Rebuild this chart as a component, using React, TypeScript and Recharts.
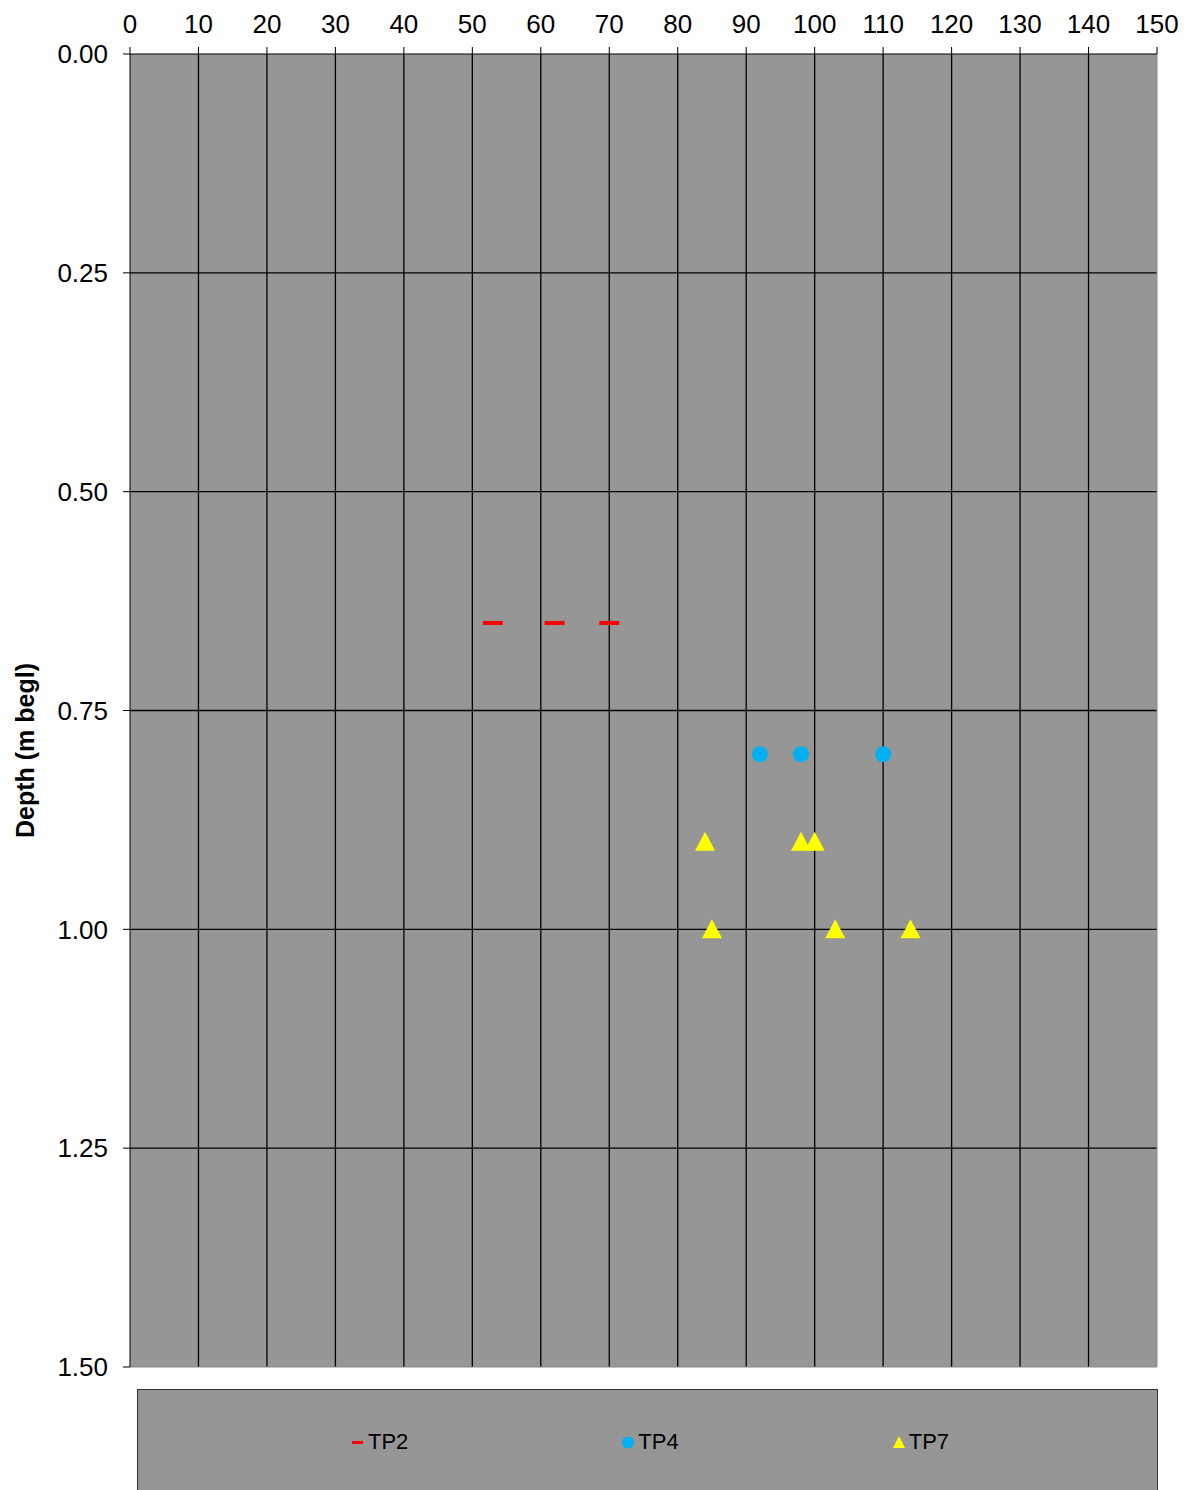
import { ScatterChart, Scatter, XAxis, YAxis, CartesianGrid, ReferenceLine } from 'recharts';

const xTicks = [0, 10, 20, 30, 40, 50, 60, 70, 80, 90, 100, 110, 120, 130, 140, 150];
const yTicks = [0, 0.25, 0.5, 0.75, 1.0, 1.25, 1.5];

const tp2Values = [53, 62, 70];
const tp2Depths = [0.65, 0.65, 0.65];
const tp4Values = [92, 98, 110];
const tp4Depths = [0.8, 0.8, 0.8];
const tp7Values = [84, 98, 100, 85, 103, 114];
const tp7Depths = [0.9, 0.9, 0.9, 1.0, 1.0, 1.0];

const toPoints = (values: number[], depths: number[]) =>
  values.map((v, i) => ({ value: v, depth: depths[i] }));

const tp2 = toPoints(tp2Values, tp2Depths);
const tp4 = toPoints(tp4Values, tp4Depths);
const tp7 = toPoints(tp7Values, tp7Depths);

const FONT = '"Liberation Sans", Arial, sans-serif';

// marker shapes
const Dash = ({ cx, cy }: any) => <rect x={cx - 10} y={cy - 2} width={20} height={4} fill="#FF0000" />;
const Dot = ({ cx, cy }: any) => <circle cx={cx} cy={cy} r={8} fill="#00B0F0" />;
const Tri = ({ cx, cy }: any) => (
  <polygon points={`${cx},${cy - 10} ${cx + 10},${cy + 9} ${cx - 10},${cy + 9}`} fill="#FFFF00" />
);

const DepthLabel = ({ viewBox }: any) => {
  const x = viewBox.x + 25;
  const y = viewBox.y + viewBox.height / 2 + 40;
  return (
    <text
      x={x}
      y={y}
      transform={`rotate(-90, ${x}, ${y})`}
      textAnchor="middle"
      dominantBaseline="central"
      fontFamily={FONT}
      fontSize={25}
      fontWeight="bold"
      fill="#000"
    >
      Depth (m begl)
    </text>
  );
};

const legendItems = [
  { name: 'TP2', icon: <rect x={0} y={6} width={11} height={3} fill="#FF0000" /> },
  { name: 'TP4', icon: <circle cx={6} cy={7.5} r={6} fill="#00B0F0" /> },
  { name: 'TP7', icon: <polygon points="6,1 12,13 0,13" fill="#FFFF00" /> },
];

const App = () => {
  return (
    <div style={{ position: 'absolute', left: 0, top: 0, width: 1197, height: 1490, overflow: 'hidden', background: '#fff', fontFamily: FONT }}>
      <ScatterChart width={1197} height={1490} margin={{ top: 21, right: 40, left: 0, bottom: 123 }}>
        <CartesianGrid fill="#969696" stroke="none" horizontal={false} vertical={false} />
        <XAxis
          type="number"
          dataKey="value"
          orientation="top"
          domain={[0, 150]}
          ticks={xTicks}
          interval={0}
          height={33}
          tickSize={7}
          tickMargin={14}
          axisLine={{ stroke: '#000' }}
          tickLine={{ stroke: '#000' }}
          tick={{ fill: '#000', fontSize: 26, fontFamily: FONT }}
        />
        <YAxis
          type="number"
          dataKey="depth"
          reversed
          domain={[0, 1.5]}
          ticks={yTicks}
          interval={0}
          width={130}
          tickSize={7}
          tickMargin={15}
          tickFormatter={(v: number) => v.toFixed(2)}
          axisLine={{ stroke: '#000' }}
          tickLine={{ stroke: '#000' }}
          tick={{ fill: '#000', fontSize: 26, fontFamily: FONT }}
          label={<DepthLabel />}
        />
        {xTicks.slice(1, -1).map((t) => (
          <ReferenceLine key={`x${t}`} x={t} stroke="#000" strokeWidth={1.3} ifOverflow="visible" />
        ))}
        {yTicks.slice(1, -1).map((t) => (
          <ReferenceLine key={`y${t}`} y={t} stroke="#000" strokeWidth={1.3} ifOverflow="visible" />
        ))}
        <ReferenceLine x={150} stroke="#8a8a8a" />
        <ReferenceLine y={1.5} stroke="#8a8a8a" />
        <Scatter name="TP2" data={tp2} shape={<Dash />} isAnimationActive={false} />
        <Scatter name="TP4" data={tp4} shape={<Dot />} isAnimationActive={false} />
        <Scatter name="TP7" data={tp7} shape={<Tri />} isAnimationActive={false} />
      </ScatterChart>
      <div
        style={{
          position: 'absolute',
          left: 137,
          top: 1389,
          width: 1021,
          height: 130,
          background: '#969696',
          border: '1px solid #333',
          boxSizing: 'border-box',
        }}
      >
        <div
          style={{
            position: 'absolute',
            top: 39,
            left: 0,
            right: 0,
            display: 'flex',
            justifyContent: 'flex-start',
            paddingLeft: 214,
            gap: 214,
            fontSize: 22,
            color: '#000',
            lineHeight: '26px',
          }}
        >
          {legendItems.map((it) => (
            <div key={it.name} style={{ display: 'flex', alignItems: 'center' }}>
              <svg width={13} height={15} style={{ marginRight: 3 }}>
                {it.icon}
              </svg>
              <span>{it.name}</span>
            </div>
          ))}
        </div>
      </div>
    </div>
  );
};

export default App;
